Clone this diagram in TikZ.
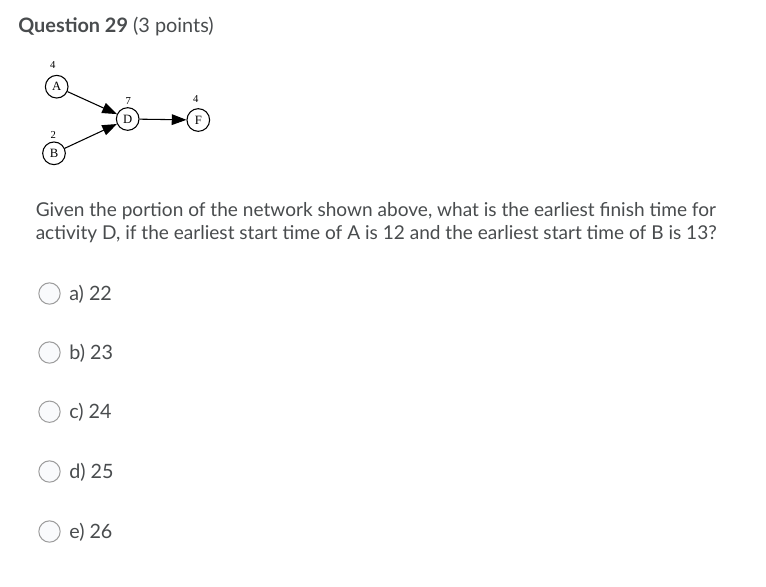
\documentclass[tikz,border=0pt]{standalone}
\usepackage{fontspec}
\setmainfont{Lato}
\newfontfamily\netfont{Liberation Serif}
\usetikzlibrary{positioning,arrows.meta}
\definecolor{ink}{HTML}{494C4E}
\definecolor{radioline}{HTML}{9C9C9C}
\definecolor{radiofill}{HTML}{F9FAFC}
\tikzset{
    ev/.style={circle, draw, line width=0.8pt, minimum size=17pt, inner sep=0pt, font=\netfont\fontsize{9.5}{9.5}\selectfont},
    dur/.style={inner sep=0pt, font=\netfont\fontsize{8}{8}\selectfont},
    arr/.style={-{Triangle[length=11pt,width=8pt]}, line width=0.8pt},
    radio/.style={circle, draw=radioline, fill=radiofill, line width=0.75pt, minimum size=16pt, inner sep=0pt},
    txt/.style={anchor=base west, inner sep=0pt, text=ink, font=\fontsize{14.3}{16}\selectfont}
}
\begin{document}
\begin{tikzpicture}[x=0.75pt, y=-0.75pt]
            \fill[white] (0,0) rectangle (766,586);
            \node[txt, font=\fontsize{14.9}{17}\selectfont] (title) at (18,32.3) {\textbf{Question 29} (3 points)};
            % network
            \node[ev] (A) at (56.7,86.7) {A}; \node[dur] (dA) at (52.7,65) {4};
            \node[ev] (B) at (54,153.3) {B}; \node[dur] (dB) at (53.3,135) {2};
            \node[ev] (D) at (127.7,119) {D}; \node[dur] (dD) at (128.3,101) {7};
            \node[ev] (F) at (198.3,120) {F}; \node[dur] (dF) at (195.7,99) {4};
            \draw[arr] (A) -- (D);
            \draw[arr] (B) -- (D);
            \draw[arr] (D) -- (F);
            % question
            \node[txt] (q1) at (35.5,216.7) {Given the portion of the network shown above, what is the earliest finish time for};
            \node[txt] (q2) at (35.5,239) {activity D, if the earliest start time of A is 12 and the earliest start time of B is 13?};
            % choices
            \node[radio] (ra) at (49.5,293.5) {}; \node[txt, font=\fontsize{14.8}{17}\selectfont] (ca) at (69,300.7) {a) 22};
            \node[radio] (rb) at (49.5,352.5) {}; \node[txt, font=\fontsize{14.8}{17}\selectfont] (cb) at (69,359.7) {b) 23};
            \node[radio] (rc) at (49.5,411.7) {}; \node[txt, font=\fontsize{14.8}{17}\selectfont] (cc) at (69,418.9) {c) 24};
            \node[radio] (rd) at (49.5,471.5) {}; \node[txt, font=\fontsize{14.8}{17}\selectfont] (cd) at (69,478.7) {d) 25};
            \node[radio] (re) at (49.5,531.5) {}; \node[txt, font=\fontsize{14.8}{17}\selectfont] (ce) at (69,538.7) {e) 26};
\end{tikzpicture}
\end{document}
